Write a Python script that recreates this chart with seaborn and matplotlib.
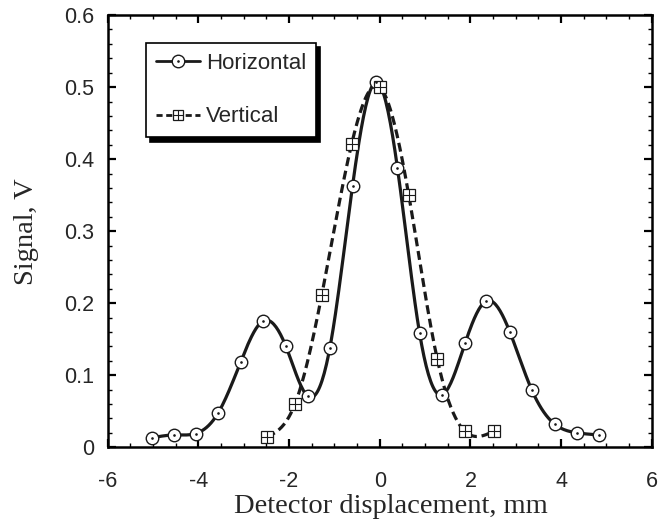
import numpy as np
import pandas as pd
import matplotlib
matplotlib.use('Agg')
import matplotlib.pyplot as plt
import seaborn as sns
from matplotlib.ticker import MultipleLocator

# data
horiz_x = [-5.03, -4.54, -4.06, -3.57, -3.07, -2.58, -2.07, -1.59, -1.10, -0.60, -0.08,
           0.39, 0.88, 1.38, 1.88, 2.35, 2.87, 3.35, 3.86, 4.35, 4.83]
horiz_y = [0.013, 0.017, 0.019, 0.047, 0.118, 0.175, 0.140, 0.071, 0.138, 0.363, 0.507,
           0.388, 0.158, 0.073, 0.144, 0.203, 0.160, 0.080, 0.032, 0.020, 0.017]
vert_x = [-2.49, -1.87, -1.28, -0.62, 0.0, 0.64, 1.27, 1.88, 2.51]
vert_y = [0.014, 0.060, 0.211, 0.421, 0.500, 0.350, 0.122, 0.022, 0.022]


def smooth(x, y, n=400):
    # natural cubic spline through the measured points
    x = np.asarray(x, float)
    y = np.asarray(y, float)
    k = len(x)
    h = np.diff(x)
    A = np.zeros((k, k))
    b = np.zeros(k)
    A[0, 0] = A[-1, -1] = 1
    for i in range(1, k - 1):
        A[i, i - 1] = h[i - 1]
        A[i, i] = 2 * (h[i - 1] + h[i])
        A[i, i + 1] = h[i]
        b[i] = 6 * ((y[i + 1] - y[i]) / h[i] - (y[i] - y[i - 1]) / h[i - 1])
    M = np.linalg.solve(A, b)
    xs = np.linspace(x[0], x[-1], n)
    idx = np.clip(np.searchsorted(x, xs) - 1, 0, k - 2)
    x0, x1 = x[idx], x[idx + 1]
    hh = x1 - x0
    t0, t1 = x1 - xs, xs - x0
    ys = (M[idx] * t0 ** 3 + M[idx + 1] * t1 ** 3) / (6 * hh) \
        + (y[idx] / hh - M[idx] * hh / 6) * t0 + (y[idx + 1] / hh - M[idx + 1] * hh / 6) * t1
    return pd.DataFrame({'x': xs, 'y': ys})


sns.set_style('ticks')
plt.rcParams['font.family'] = ['Liberation Sans', 'DejaVu Sans']

fig = plt.figure(figsize=(6.61, 5.2), dpi=100)
ax = fig.add_axes([0.163, 0.140, 0.823, 0.831])

ink = '#1a1a1a'
dash = (0, (2.8, 1.5))
h_line = smooth(horiz_x, horiz_y)
v_line = smooth(vert_x, vert_y)
sns.lineplot(data=v_line, x='x', y='y', ax=ax, color=ink, lw=2.3,
             linestyle=dash, sort=False, zorder=2)
sns.lineplot(data=h_line, x='x', y='y', ax=ax, color=ink, lw=2.3, sort=False, zorder=2)

ax.plot(horiz_x, horiz_y, 'o', ms=9, mfc='white', mec=ink, mew=1.0, zorder=3)
ax.plot(horiz_x, horiz_y, '.', ms=1.8, color=ink, zorder=4)
ax.plot(vert_x, vert_y, 's', ms=8, mfc='white', mec=ink, mew=0.9, zorder=3)
ax.plot(vert_x, vert_y, '+', ms=8, color=ink, mew=0.8, zorder=4)

# legend handles
lh1 = plt.Line2D([], [], color=ink, lw=2.0, marker='o', ms=9, mfc='white', mec=ink, mew=1.0)
lh1b = plt.Line2D([], [], ls='none', marker='.', ms=1.8, color=ink)
lh2 = plt.Line2D([], [], color=ink, lw=2.0, ls=(0, (2.2, 1.3)), marker='s', ms=7,
                 mfc='white', mec=ink, mew=0.9)
lh2b = plt.Line2D([], [], ls='none', marker='+', ms=7, color=ink, mew=0.8)
leg = ax.legend([(lh1, lh1b), (lh2, lh2b)], ['Horizontal', 'Vertical'],
                loc='upper left', bbox_to_anchor=(0.07, 0.935), fontsize=16,
                frameon=True, fancybox=False, edgecolor='black', labelspacing=1.45,
                handlelength=2.0, handletextpad=0.25, borderpad=0.45, borderaxespad=0,
                shadow={'color': 'black', 'alpha': 1, 'ox': 3, 'oy': -3})
leg.get_frame().set_linewidth(1.2)

ax.set_xlim(-6, 6)
ax.set_ylim(0, 0.6)
ax.xaxis.set_major_locator(MultipleLocator(2))
ax.xaxis.set_minor_locator(MultipleLocator(0.5))
ax.yaxis.set_major_locator(MultipleLocator(0.1))
ax.yaxis.set_minor_locator(MultipleLocator(0.02))
ax.set_xticks(range(-6, 7, 2))
ax.set_xticklabels([str(v) for v in range(-6, 7, 2)])
ax.set_yticks([0, 0.1, 0.2, 0.3, 0.4, 0.5, 0.6])
ax.set_yticklabels(['0', '0.1', '0.2', '0.3', '0.4', '0.5', '0.6'])
ax.tick_params(which='both', direction='in', top=True, right=True, labelsize=15.5, color='black')
ax.tick_params(which='major', length=6, width=1.6)
ax.tick_params(which='minor', length=3.2, width=1.0)
ax.tick_params(axis='x', which='major', pad=17)
ax.tick_params(axis='y', which='major', pad=10)
for s in ax.spines.values():
    s.set_linewidth(1.8)
    s.set_color('black')

ax.set_xlabel('Detector displacement, mm', family='Liberation Serif', fontsize=20.5)
ax.set_ylabel('Signal, V', family='Liberation Serif', fontsize=20.5)
ax.xaxis.set_label_coords(0.52, -0.108)
ax.yaxis.set_label_coords(-0.127, 0.5)

fig.savefig('out.png', dpi=100)
